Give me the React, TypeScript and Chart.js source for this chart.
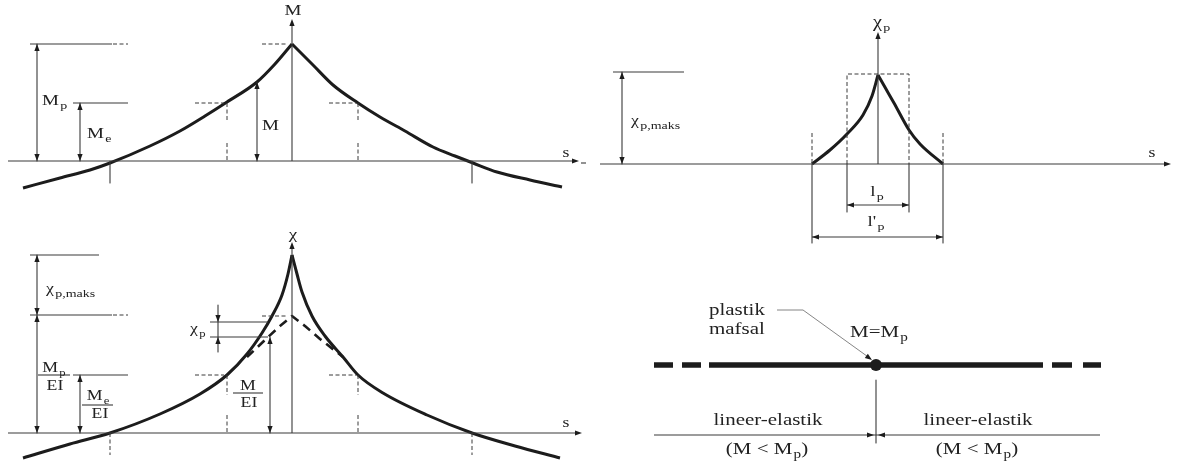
import React, { useEffect, useRef } from "react";
import { Chart, registerables } from "chart.js";
Chart.register(...registerables);

type P = [number, number];

// ---- thick curves (split at peaks) ----
const momentLeft: P[] = [[23,188],[60,178],[90,170],[110,163],[150,146],[180,131],[205,116],[227,102],[257,82],[275,64],[292,44]];
const momentRight: P[] = [[292,44],[313,65],[333,85],[358,103],[380,117],[405,131],[433,147],[455,156],[473,163],[497,172],[530,180],[562,187]];
const curvatureLeft: P[] = [[23,458],[70,444],[110,433],[160,414],[200,394],[227,375],[247,354],[262,333],[272,316],[282,295],[288,274],[292,255]];
const curvatureRight: P[] = [[292,255],[297,274],[302,292],[312,316],[325,336],[343,357],[358,375],[383,393],[427,415],[472,433],[515,446],[560,458]];
const elasticCurvature: P[] = [[247,357],[265,340],[280,326],[292,316],[305,326],[320,339],[343,357]];
const plasticLeft: P[] = [[812,164],[830,150],[847,134],[863,115],[872,96],[878,75]];
const plasticRight: P[] = [[878,75],[886,89],[894,103],[909,130],[920,144],[943,164]];

// ---- thin solid lines ----
const thinLines: P[][] = [
  // top-left
  [[8,161],[574,161]], [[292,161],[292,24]],
  [[30,44],[112,44]], [[37,44],[37,161]],
  [[73,103],[128,103]], [[80,103],[80,161]],
  [[257,82],[257,161]],
  [[110,161],[110,183]], [[472,161],[472,183]],
  // bottom-left
  [[8,433],[577,433]], [[292,433],[292,248]],
  [[30,255],[99,255]], [[37,255],[37,433]],
  [[30,315],[112,315]],
  [[73,375],[128,375]], [[80,375],[80,433]],
  [[38,375],[70,375]], [[82,405],[113,405]], [[233,393],[263,393]],
  [[210,322],[268,322]], [[210,337],[268,337]], [[218,305],[218,352]],
  [[270,337],[270,433]],
  // top-right
  [[581,163],[586,163]], [[600,164],[1166,164]], [[878,164],[878,37]],
  [[613,72],[684,72]], [[622,72],[622,164]],
  [[847,164],[847,212]], [[909,164],[909,212]], [[812,164],[812,243]], [[943,164],[943,243]],
  [[847,205],[909,205]], [[812,237],[943,237]],
  // bottom-right
  [[876,380],[876,443]], [[654,435],[1100,435]],
];
const leaderLines: P[][] = [[[777,310],[803,310]], [[803,310],[871,359]]];

// ---- thin dashed lines ----
const dashedLines: P[][] = [
  [[113,44],[128,44]], [[262,44],[286,44]], [[195,103],[224,103]],
  [[227,103],[227,122]], [[227,143],[227,161]],
  [[329,103],[356,103]], [[358,103],[358,122]], [[358,143],[358,161]],
  [[113,315],[128,315]], [[262,316],[286,316]], [[195,375],[224,375]],
  [[227,375],[227,395]], [[227,415],[227,433]],
  [[329,375],[356,375]], [[358,375],[358,395]], [[358,415],[358,433]],
  [[110,433],[110,455]], [[472,433],[472,455]],
  [[847,164],[847,74],[909,74],[909,164]],
  [[812,133],[812,164]], [[943,133],[943,164]],
];

// ---- beam ----
const beamSolid: P[] = [[709,365],[1043,365]];
const beamDashLeft: P[] = [[654,365],[701,365]];
const beamDashRight: P[] = [[1052,365],[1101,365]];
const hingePoint: P[] = [[876,365]];

// ---- arrow heads: x, y, direction (deg) ----
const arrowHeads: [number, number, number][] = [
  [579,161,0],[292,19,-90],[37,44,-90],[37,161,90],[80,103,-90],[80,161,90],[257,82,-90],[257,161,90],
  [582,433,0],[292,242,-90],[37,255,-90],[37,315,90],[37,315,-90],[37,433,90],[80,375,-90],[80,433,90],
  [218,322,90],[218,337,-90],[270,337,-90],[270,433,90],
  [1171,164,0],[878,32,-90],[622,72,-90],[622,164,90],[847,205,180],[909,205,0],[812,237,180],[943,237,0],
  [872,360,36],[874,435,0],[878,435,180],
];

// ---- text labels ----
type L = { t: string; s?: string; a?: string; x: number; y: number; size: number; sub?: number; align?: "left" | "center" };
const axisLabels: L[] = [
  { t: "M", x: 293, y: 15, size: 15, align: "center" },
  { t: "s", x: 566, y: 157, size: 14, align: "center" },
  { t: "χ", x: 293, y: 239, size: 15, align: "center" },
  { t: "s", x: 566, y: 427, size: 14, align: "center" },
  { t: "χ", s: "p", x: 873, y: 27, size: 16 },
  { t: "s", x: 1152, y: 157, size: 14, align: "center" },
];
const dimensionLabels: L[] = [
  { t: "M", s: "p", x: 42, y: 105, size: 15 },
  { t: "M", s: "e", x: 87, y: 138, size: 15 },
  { t: "M", x: 262, y: 130, size: 15 },
  { t: "χ", s: "p,maks", x: 46, y: 293, size: 14, sub: 0.78 },
  { t: "M", s: "p", x: 54, y: 372, size: 14, align: "center" },
  { t: "EI", x: 55, y: 390, size: 14, align: "center" },
  { t: "M", s: "e", x: 98, y: 400, size: 14, align: "center" },
  { t: "EI", x: 100, y: 418, size: 14, align: "center" },
  { t: "M", x: 248, y: 390, size: 14, align: "center" },
  { t: "EI", x: 249, y: 407, size: 14, align: "center" },
  { t: "χ", s: "p", x: 190, y: 333, size: 14 },
  { t: "χ", s: "p,maks", x: 631, y: 125, size: 14, sub: 0.78 },
  { t: "l", s: "p", x: 877, y: 196, size: 15, align: "center" },
  { t: "l'", s: "p", x: 876, y: 226, size: 15, align: "center" },
];
const beamLabels: L[] = [
  { t: "plastik", x: 709, y: 315, size: 16.5 },
  { t: "mafsal", x: 709, y: 334, size: 16.5 },
  { t: "M=M", s: "p", x: 850, y: 337, size: 16.5 },
  { t: "lineer-elastik", x: 768, y: 425, size: 16.5, align: "center" },
  { t: "(M < M", s: "p", a: ")", x: 767, y: 454, size: 16.5, align: "center" },
  { t: "lineer-elastik", x: 978, y: 425, size: 16.5, align: "center" },
  { t: "(M < M", s: "p", a: ")", x: 977, y: 454, size: 16.5, align: "center" },
];

const INK = "#1c1c1c";
const THIN = "#3a3a3a";
const FONT = '"Liberation Serif", "DejaVu Serif", serif';
const TEXT_STRETCH = 1.27;

const toData = (pts: P[]) => pts.map(([x, y]) => ({ x, y }));

const line = (pts: P[], width: number, color: string, dash: number[] = [], smooth = false) => ({
  data: toData(pts),
  showLine: true,
  pointRadius: 0,
  pointHoverRadius: 0,
  borderColor: color,
  borderWidth: width,
  borderDash: dash,
  borderCapStyle: "butt",
  borderJoinStyle: "round",
  tension: 0,
  cubicInterpolationMode: smooth ? "monotone" : "default",
  fill: false,
  clip: false as any,
});

const overlayPlugin = {
  id: "overlay",
  afterDatasetsDraw(chart: any) {
    const { ctx, scales } = chart;
    const X = (v: number) => scales.x.getPixelForValue(v);
    const Y = (v: number) => scales.y.getPixelForValue(v);
    ctx.save();
    ctx.fillStyle = INK;
    for (const [x, y, deg] of arrowHeads) {
      const a = (deg * Math.PI) / 180;
      const len = 7, hw = 2.6;
      const px = X(x), py = Y(y);
      ctx.beginPath();
      ctx.moveTo(px, py);
      ctx.lineTo(px - len * Math.cos(a) - hw * Math.sin(a), py - len * Math.sin(a) + hw * Math.cos(a));
      ctx.lineTo(px - len * Math.cos(a) + hw * Math.sin(a), py - len * Math.sin(a) - hw * Math.cos(a));
      ctx.closePath();
      ctx.fill();
    }
    ctx.fillStyle = "#222";
    ctx.textBaseline = "alphabetic";
    ctx.textAlign = "left";
    for (const l of [...axisLabels, ...dimensionLabels, ...beamLabels]) {
      const main = `${l.size}px ${FONT}`;
      const subSize = Math.round(l.size * (l.sub ?? 0.7));
      const sub = `${subSize}px ${FONT}`;
      ctx.font = main;
      const w1 = ctx.measureText(l.t).width;
      ctx.font = sub;
      const w2 = l.s ? ctx.measureText(l.s).width + 1 : 0;
      ctx.font = main;
      const w3 = l.a ? ctx.measureText(l.a).width : 0;
      const total = (w1 + w2 + w3) * TEXT_STRETCH;
      let x0 = X(l.x);
      if (l.align === "center") x0 -= total / 2;
      const y0 = Y(l.y);
      ctx.save();
      ctx.translate(x0, y0);
      ctx.scale(TEXT_STRETCH, 1);
      ctx.font = main;
      ctx.fillText(l.t, 0, 0);
      if (l.s) {
        ctx.font = sub;
        ctx.fillText(l.s, w1 + 1, l.size * 0.25);
      }
      if (l.a) {
        ctx.font = main;
        ctx.fillText(l.a, w1 + w2, 0);
      }
      ctx.restore();
    }
    ctx.restore();
  },
};

export default function App() {
  const ref = useRef<HTMLCanvasElement | null>(null);
  useEffect(() => {
    document.body.style.margin = "0";
    document.body.style.background = "#fff";
    if (!ref.current) return;
    const datasets: any[] = [
      ...thinLines.map((p) => line(p, 1.1, THIN)),
      ...leaderLines.map((p) => line(p, 0.9, "#777")),
      ...dashedLines.map((p) => line(p, 1, THIN, [4, 2.5])),
      line(momentLeft, 3, INK, [], true),
      line(momentRight, 3, INK, [], true),
      line(curvatureLeft, 3, INK, [], true),
      line(curvatureRight, 3, INK, [], true),
      line(elasticCurvature, 2.6, INK, [9, 6]),
      line(plasticLeft, 3, INK, [], true),
      line(plasticRight, 3, INK, [], true),
      line(beamSolid, 5.5, INK),
      line(beamDashLeft, 5.5, INK, [19, 9]),
      line(beamDashRight, 5.5, INK, [20, 11]),
      {
        data: toData(hingePoint),
        showLine: false,
        pointRadius: 6,
        pointHoverRadius: 6,
        pointBackgroundColor: INK,
        pointBorderWidth: 0,
        clip: false,
      },
    ];
    const chart = new Chart(ref.current, {
      type: "scatter",
      data: { datasets },
      options: {
        animation: false,
        responsive: false,
        maintainAspectRatio: false,
        layout: { padding: 0, autoPadding: false },
        events: [],
        plugins: { legend: { display: false }, tooltip: { enabled: false } },
        scales: {
          x: { type: "linear", min: 0, max: 1177, display: false },
          y: { type: "linear", min: 0, max: 472, reverse: true, display: false },
        },
      },
      plugins: [overlayPlugin],
    });
    return () => chart.destroy();
  }, []);
  return (
    <div style={{ width: 1177, height: 472, background: "#fff" }}>
      <canvas ref={ref} width={1177} height={472} style={{ display: "block" }} />
    </div>
  );
}
